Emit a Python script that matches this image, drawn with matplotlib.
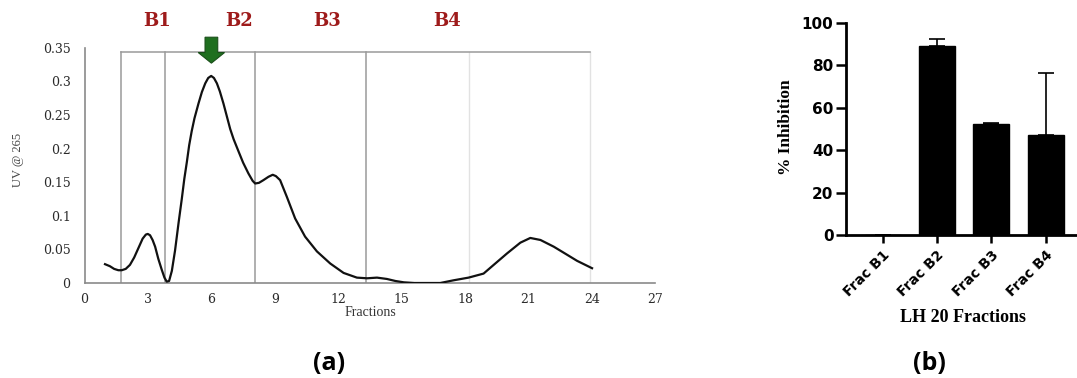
import matplotlib
matplotlib.use("Agg")
import matplotlib.pyplot as plt
from matplotlib.patches import FancyArrow

# ---------------- data ----------------
# (a) UV @ 265 chromatogram
fractions = [0.97, 1.2, 1.4, 1.6, 1.76, 1.95, 2.15, 2.35, 2.55, 2.75, 2.9, 2.99, 3.1, 3.22,
             3.34, 3.49, 3.65, 3.78, 3.89, 4.0, 4.13, 4.28, 4.45, 4.6, 4.72, 4.84, 4.95, 5.07,
             5.2, 5.39, 5.55, 5.71, 5.85, 5.99, 6.12, 6.26, 6.4, 6.57, 6.73, 6.89, 7.05, 7.28,
             7.5, 7.75, 7.95, 8.07, 8.25, 8.46, 8.7, 8.9, 9.05, 9.25, 9.57, 9.96, 10.43, 10.99,
             11.62, 12.25, 12.88, 13.36, 13.83, 14.3, 14.7, 15.1, 15.6, 16.2, 16.82, 17.45,
             18.16, 18.87, 19.35, 19.98, 20.61, 21.08, 21.56, 22.19, 22.82, 23.29, 24.0]
uv = [0.028, 0.025, 0.021, 0.019, 0.019, 0.021, 0.027, 0.038, 0.052, 0.066, 0.072, 0.073, 0.071, 0.064,
      0.054, 0.036, 0.020, 0.008, 0.002, 0.003, 0.018, 0.048, 0.090, 0.125, 0.155, 0.180, 0.205, 0.226,
      0.245, 0.267, 0.284, 0.297, 0.305, 0.308, 0.305, 0.297, 0.285, 0.267, 0.248, 0.229, 0.214, 0.196,
      0.179, 0.163, 0.152, 0.148, 0.149, 0.153, 0.158, 0.161, 0.159, 0.153, 0.128, 0.096, 0.069, 0.047,
      0.029, 0.015, 0.008, 0.007, 0.008, 0.006, 0.003, 0.001, 0.0, 0.0, 0.0, 0.004,
      0.008, 0.014, 0.027, 0.044, 0.060, 0.067, 0.064, 0.054, 0.042, 0.033, 0.022]
dividers = [1.73, 3.8, 8.05, 13.33]
light_dividers = [18.16, 23.9]
pool_labels = ["B1", "B2", "B3", "B4"]
pool_label_pos = [3.42, 7.31, 11.46, 17.14]
x_ticks_a = [0, 3, 6, 9, 12, 15, 18, 21, 24, 27]
y_ticks_a = [0, 0.05, 0.1, 0.15, 0.2, 0.25, 0.3, 0.35]
y_ticklabels_a = ["0", "0.05", "0.1", "0.15", "0.2", "0.25", "0.3", "0.35"]

# (b) % inhibition
categories = ["Frac B1", "Frac B2", "Frac B3", "Frac B4"]
inhibition = [0.0, 88.9, 52.3, 47.2]
inhibition_err = [0.0, 3.3, 0.7, 29.3]
y_ticks_b = [0, 20, 40, 60, 80, 100]

# ---------------- figure ----------------
W, H = 1077, 378
fig = plt.figure(figsize=(W / 100, H / 100), dpi=100)

serif = ["Liberation Serif", "DejaVu Serif"]
wserif = ["DejaVu Serif"]
wsans = ["DejaVu Sans"]

# ---- panel (a) ----
axa = fig.add_axes([84.5 / W, 1 - 283 / H, 571 / W, 235.3 / H])
axa.set_xlim(0, 27)
axa.set_ylim(0, 0.35)
for s in ["top", "right"]:
    axa.spines[s].set_visible(False)
for s in ["left", "bottom"]:
    axa.spines[s].set_color("#8a8a8a")
    axa.spines[s].set_linewidth(1.2)

top_y = 0.343
for xv in dividers:
    axa.plot([xv, xv], [0, top_y], color="#9a9a9a", lw=1.1, zorder=1)
for xv in light_dividers:
    axa.plot([xv, xv], [0, top_y], color="#e2e2e2", lw=1.0, zorder=1)
axa.plot([dividers[0], light_dividers[-1]], [top_y, top_y], color="#9a9a9a", lw=1.1,
         zorder=1, clip_on=False)

axa.plot(fractions, uv, color="#111111", lw=1.6, zorder=3, solid_joinstyle="round")

axa.set_xticks(x_ticks_a)
axa.set_yticks(y_ticks_a)
axa.set_yticklabels(y_ticklabels_a)
axa.tick_params(length=0, pad=7, labelsize=9, labelcolor="#2a2a2a")
for lab in axa.get_xticklabels() + axa.get_yticklabels():
    lab.set_fontfamily(wserif)
axa.tick_params(axis="y", pad=10)

for lab, xp in zip(pool_labels, pool_label_pos):
    axa.text(xp, 0.39, lab, ha="center", va="center", fontsize=13, fontweight="bold",
             color="#9e1b1b", family=wserif, clip_on=False)

arrow = FancyArrow(6.0, 0.3656, 0, -0.0386, width=0.6, head_width=1.245,
                   head_length=0.0158, length_includes_head=True,
                   facecolor="#1f6f1f", edgecolor="#1a4f1a", lw=0.8, clip_on=False, zorder=5)
axa.add_patch(arrow)

fig.text(18 / W, 1 - 160 / H, "UV @ 265", rotation=90, ha="center", va="center",
         fontsize=9, color="#444444", family=serif)
fig.text(370 / W, 1 - 312 / H, "Fractions", ha="center", va="center",
         fontsize=10, color="#333333", family=serif)

# ---- panel (b) ----
axb = fig.add_axes([846 / W, 1 - 235.3 / H, (W - 846) / W, 212.6 / H])
xpos = list(range(len(categories)))
axb.bar(xpos, inhibition, width=0.66, color="black", edgecolor="black", lw=1.0, zorder=2)
axb.errorbar(xpos, inhibition, yerr=[[0] * len(inhibition_err), inhibition_err],
             fmt="none", ecolor="black", elinewidth=1.2, capsize=6, capthick=1.2, zorder=1)
axb.set_xlim(-0.675, 3.578)
axb.set_ylim(0, 100)
for s in ["top", "right"]:
    axb.spines[s].set_visible(False)
for s in ["left", "bottom"]:
    axb.spines[s].set_linewidth(2.0)
axb.set_yticks(y_ticks_b)
axb.set_xticks(xpos)
axb.set_xticklabels(categories, rotation=45, ha="right", rotation_mode="anchor")
axb.tick_params(axis="y", length=7, width=1.8, labelsize=11, pad=2)
axb.tick_params(axis="x", length=6, width=1.8, labelsize=10, pad=3)
for lab in axb.get_xticklabels() + axb.get_yticklabels():
    lab.set_fontfamily(wsans)
    lab.set_fontweight("bold")

fig.text(786 / W, 1 - 127.5 / H, "% Inhibition", rotation=90, ha="center", va="center",
         fontsize=12.5, fontweight="bold", family=serif)
fig.text(963 / W, 1 - 318 / H, "LH 20 Fractions", ha="center", va="center",
         fontsize=13, fontweight="bold", family=serif)

# panel letters
fig.text(329 / W, 1 - 364 / H, "(a)", ha="center", va="center", fontsize=18,
         fontweight="bold", family=["Open Sans", "DejaVu Sans"])
fig.text(929 / W, 1 - 364 / H, "(b)", ha="center", va="center", fontsize=18,
         fontweight="bold", family=["Open Sans", "DejaVu Sans"])

fig.savefig("out.png", dpi=100, facecolor="white")
